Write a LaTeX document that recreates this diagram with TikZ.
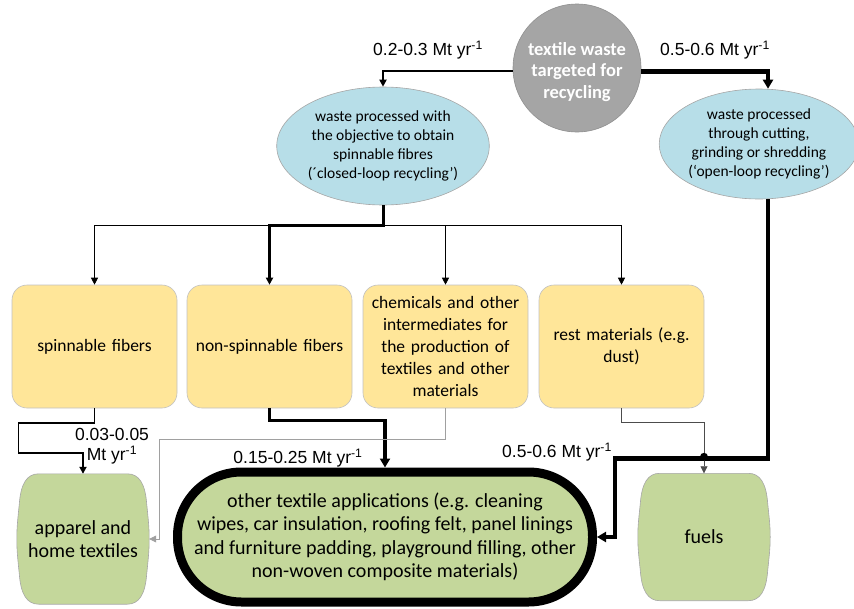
\documentclass[tikz,border=0pt]{standalone}
\usepackage{fontspec}
\setmainfont{Carlito}
\newfontfamily\lab{Liberation Sans}
\usetikzlibrary{shapes.geometric,arrows.meta,calc}
\definecolor{cgray}{HTML}{A5A5A5}
\definecolor{cgrayb}{HTML}{8F8F8F}
\definecolor{cblue}{HTML}{B7DEE8}
\definecolor{cyel}{HTML}{FFE699}
\definecolor{cgreen}{HTML}{C4D79B}
\definecolor{cbord}{HTML}{A6A6A6}
\definecolor{cthin}{HTML}{A0A0A0}
\begin{document}
\begin{tikzpicture}[x=1pt,y=-1pt,
  ell/.style={ellipse,fill=cblue,draw=cbord,line width=0.6pt,align=center,font=\fontsize{15.5}{19}\selectfont,inner sep=0pt},
  ybox/.style={rectangle,rounded corners=15pt,fill=cyel,draw=cbord!70,line width=0.6pt,minimum width=165pt,minimum height=123pt,align=center,font=\fontsize{17.5}{22}\selectfont,text width=162pt,inner sep=0pt},
  gnode/.style={rectangle,minimum width=132pt,minimum height=130pt,inner sep=0pt,align=center,font=\fontsize{20}{23.5}\selectfont},
  mlab/.style={font=\lab\fontsize{17.5}{20.5}\selectfont,inner sep=0pt,align=center},
  tip/.style={-{Triangle[length=7pt,width=7pt]}},
  bigtip/.style={-{Triangle[length=9pt,width=10pt]}},
  thin/.style={line width=0.7pt,draw=cthin},
]
\useasboundingbox (0,0) rectangle (854,608);

% top
\node[circle,fill=cgray,draw=cgrayb,line width=0.6pt,minimum size=128pt,inner sep=0pt] (circ) at (577,68) {};
\node[align=center,font=\bfseries\fontsize{18.5}{21.7}\selectfont,text=white,inner sep=0pt] (circtext) at (577,72) {textile waste\\targeted for\\recycling};
\node[ell,minimum width=192pt,minimum height=118pt] (ellL) at (383,146)
  {waste processed with\\the objective to obtain\\spinnable fibres\\(´closed-loop recycling’)};
\node[ell,minimum width=178pt,minimum height=110pt] (ellR) at (759,144)
  {waste processed\\through cutting,\\grinding or shredding\\(‘open-loop recycling’)};

% boxes
\node[ybox] (b1) at (94.5,346.5) {spinnable fibers};
\node[ybox] (b2) at (269.5,346.5) {non-spinnable fibers};
\node[ybox] (b3) at (445.5,346.5) {chemicals and other\\intermediates for\\the production of\\textiles and other\\materials};
\node[ybox] (b4) at (621.5,346.5) {rest materials (e.g.\\dust)};

% bottom shapes
\node[gnode] (app) at (83,539) {};
\node[gnode,minimum height=127pt] (fuels) at (704,537) {};
\foreach \n in {app,fuels}{
  \draw[cbord,fill=cgreen,line width=0.6pt]
    ($(\n.north west)+(22,0)$) -- ($(\n.north east)+(-22,0)$)
    .. controls ($(\n.north east)+(-10,0)$) and ($(\n.north east)+(-4,10)$) .. ($(\n.north east)+(-2.5,30)$)
    .. controls ($(\n.north east)+(-1,45)$) and ($(\n.east)+(0,-12)$) .. (\n.east)
    .. controls ($(\n.east)+(0,12)$) and ($(\n.south east)+(-1,-45)$) .. ($(\n.south east)+(-2.5,-30)$)
    .. controls ($(\n.south east)+(-4,-10)$) and ($(\n.south east)+(-10,0)$) .. ($(\n.south east)+(-22,0)$)
    -- ($(\n.south west)+(22,0)$)
    .. controls ($(\n.south west)+(10,0)$) and ($(\n.south west)+(4,-10)$) .. ($(\n.south west)+(2.5,-30)$)
    .. controls ($(\n.south west)+(1,-45)$) and ($(\n.west)+(0,12)$) .. (\n.west)
    .. controls ($(\n.west)+(0,-12)$) and ($(\n.north west)+(1,45)$) .. ($(\n.north west)+(2.5,30)$)
    .. controls ($(\n.north west)+(4,10)$) and ($(\n.north west)+(10,0)$) .. cycle;
}
\node[gnode] (apptext) at (app.center) {apparel and\\home textiles};
\node[gnode] (fueltext) at (fuels.center) {fuels};

\node[rectangle,rounded corners=64pt,fill=cgreen,draw=black,line width=9pt,minimum width=415pt,minimum height=130pt,
  align=center,font=\fontsize{20}{23.5}\selectfont,inner sep=0pt] (pill) at (385,537)
  {other textile applications (e.g. cleaning\\wipes, car insulation, roofing felt, panel linings\\and furniture padding, playground filling, other\\non-woven composite materials)};

% top connectors
\draw[line width=2pt,tip] (circ.183) -| (ellL.north);
\draw[line width=4.5pt,bigtip] (circ.357) -| ($(ellR.north)+(9,0)$);
\node[mlab] (l1) at (428,50) {0.2-0.3 Mt yr\textsuperscript{-1}};
\node[mlab] (l2) at (715,50) {0.5-0.6 Mt yr\textsuperscript{-1}};

% distribution
\coordinate (hub) at ($(ellL.south)+(0,20)$);
\draw[line width=0.9pt] (b1.north |- hub) -- (b4.north |- hub);
\draw[line width=0.9pt,tip] (b1.north |- hub) -- (b1.north);
\draw[line width=0.9pt,tip] (b3.north |- hub) -- (b3.north);
\draw[line width=0.9pt,tip] (b4.north |- hub) -- (b4.north);
\draw[line width=3pt,tip] (ellL.south) -- (hub) -| (b2.north);

% bottom connectors
\draw[line width=1.8pt,tip] (b1.south) -- ++(0,15) -- ++(-76,0) -- ++(0,30) -| (app.north);
\node[mlab] (l3) at (112,446) {0.03-0.05\\Mt yr\textsuperscript{-1}};

\draw[line width=3.5pt,bigtip] (b2.south) -- ++(0,12) -| (pill.north);
\node[mlab] (l4) at (298,458) {0.15-0.25 Mt yr\textsuperscript{-1}};

\draw[thin,tip] (b3.south) -- ++(0,31) -| ($(app.east)+(10,0)$) -- (app.east);

\coordinate (rcorner) at ($(ellR.south)+(9,259)$);
\draw[line width=4.5pt,bigtip] ($(ellR.south)+(9,0)$) -- (rcorner) -| ($(pill.east)+(18,0)$) -- (pill.east);
\node[mlab] (l5) at (557,452) {0.5-0.6 Mt yr\textsuperscript{-1}};

\draw[line width=0.7pt,draw=black!70,tip] (b4.south) -- ++(0,14) -| (fuels.north);
\coordinate (cross) at (fuels.north |- rcorner);
\fill[black] ($(cross)+(0,-1.5)$) circle[radius=4pt];
\end{tikzpicture}
\end{document}
